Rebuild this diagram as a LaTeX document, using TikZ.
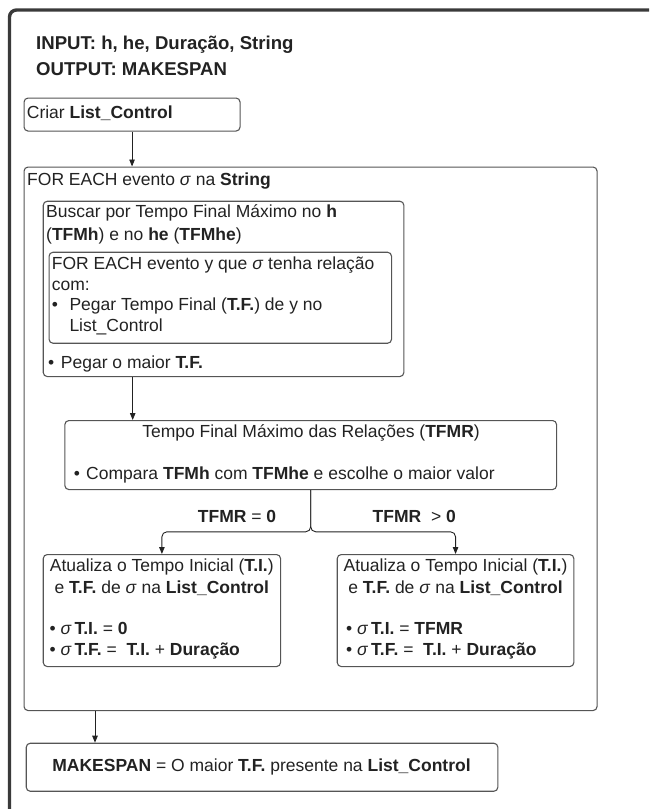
\documentclass[tikz,border=0pt]{standalone}
\usepackage{fontspec}
\setmainfont{Liberation Sans}
\usetikzlibrary{arrows.meta,calc}

\definecolor{framegray}{HTML}{3A3A3A}
\definecolor{boxgray}{HTML}{555555}
\definecolor{inkgray}{HTML}{222222}

\tikzset{
  box/.style={draw=boxgray, line width=1.1pt, rounded corners=4pt, anchor=north west, inner sep=0pt},
  txt/.style={inner sep=0pt, anchor=base west, text=inkgray, align=left, font=\fontsize{17.5}{21.6}\selectfont},
  arr/.style={draw=inkgray, line width=0.9pt, -{Triangle[length=7pt,width=5.5pt]}},
}

\begin{document}
\begin{tikzpicture}[x=1pt,y=-1pt]

    \useasboundingbox (0,0) rectangle (649,809);

    % Outer frame (runs off the page right and below)
    \begin{scope}
        \clip (0,0) rectangle (649,809);
        \draw[framegray, line width=3.4pt, rounded corners=7pt] (9.5,10) rectangle (700,860);
    \end{scope}

    % Input and output (multi-line nodes sit on their last baseline)
    \node[txt, font=\fontsize{18.6}{26}\selectfont\bfseries] (io) at (36,75) {INPUT: h, he, Duração, String\\OUTPUT: MAKESPAN};

    % Criar List_Control
    \node[box, minimum width=216pt, minimum height=33pt] (criar) at (23.5,97.5) {};
    \node[txt] (criartxt) at (26.7,118) {Criar \textbf{List\_Control}};

    % Loop over the events of the string
    \node[box, minimum width=573pt, minimum height=543.5pt] (foreach) at (23.5,166.5) {};
    \node[txt] (foreachtxt) at (27,185) {FOR EACH evento \textit{σ} na \textbf{String}};

    % Search for the maximum final time
    \node[box, minimum width=360.6pt, minimum height=175.3pt] (buscar) at (42.7,200.7) {};
    \node[txt, font=\fontsize{17.5}{22.3}\selectfont] (buscartxt) at (46,240) {Buscar por Tempo Final Máximo no \textbf{h}\\(\textbf{TFMh}) e no \textbf{he} (\textbf{TFMhe})};

    % Inner loop over the related events
    \node[box, minimum width=342.5pt, minimum height=91pt] (cadaY) at (48.5,251.7) {};
    \node[txt, font=\fontsize{17.5}{20.8}\selectfont] (cadaYtxt) at (51.7,331.7) {FOR EACH evento y que \textit{σ} tenha relação\\com:\\•\hspace{11.5pt}Pegar Tempo Final (\textbf{T.F.}) de y no\\\hspace*{17.6pt}List\_Control};
    \node[txt] (maiortxt) at (48,368.3) {•\hspace{6.6pt}Pegar o maior \textbf{T.F.}};

    % Maximum final time of the relations
    \node[box, minimum width=491.7pt, minimum height=69pt] (tfmr) at (64.3,420) {};
    \node[txt, anchor=base] (tfmrtxt) at (311,437) {Tempo Final Máximo das Relações (\textbf{TFMR})};
    \node[txt] (comparatxt) at (73.7,479.3) {•\hspace{6.2pt}Compara \textbf{TFMh} com \textbf{TFMhe} e escolhe o maior valor};

    % Branch labels
    \node[txt, anchor=base] (lblzero) at (237,522.7) {\textbf{TFMR} = \textbf{0}};
    \node[txt, anchor=base] (lblpos) at (414.3,522.7) {\textbf{TFMR} \ > \textbf{0}};

    % Update when TFMR = 0
    \node[box, minimum width=237.3pt, minimum height=112pt] (updzero) at (42.7,554) {};
    \node[txt, align=center, anchor=base] (updzerotxt) at (161.8,593.3) {Atualiza o Tempo Inicial (\textbf{T.I.})\\e \textbf{T.F.} de \textit{σ} na \textbf{List\_Control}};
    \node[txt, font=\fontsize{17.5}{20.7}\selectfont] (updzerolist) at (49.4,655) {• \textit{σ}\,\textbf{T.I.} = \textbf{0}\\• \textit{σ}\,\textbf{T.F.} = \ \textbf{T.I.} + \textbf{Duração}};

    % Update when TFMR > 0
    \node[box, minimum width=236.6pt, minimum height=112pt] (updpos) at (336.7,554) {};
    \node[txt, align=center, anchor=base] (updpostxt) at (455.5,593.3) {Atualiza o Tempo Inicial (\textbf{T.I.})\\e \textbf{T.F.} de \textit{σ} na \textbf{List\_Control}};
    \node[txt, font=\fontsize{17.5}{20.7}\selectfont] (updposlist) at (346,655) {• \textit{σ}\,\textbf{T.I.} = \textbf{TFMR}\\• \textit{σ}\,\textbf{T.F.} = \ \textbf{T.I.} + \textbf{Duração}};

    % Makespan
    \node[box, minimum width=471.6pt, minimum height=48pt] (makespan) at (25.7,742.7) {};
    \node[txt, anchor=base] (makespantxt) at (261.5,771) {\textbf{MAKESPAN} = O maior \textbf{T.F.} presente na \textbf{List\_Control}};

    % Connectors
    \draw[arr] (criar.south) -- (criar.south |- foreach.north);
    \coordinate (buscarout) at ($(buscar.south west)+(90,0)$);
    \draw[arr] (buscarout) -- (buscarout |- tfmr.north);
    \coordinate (split) at ($(tfmr.south)+(0,41.7)$);
    \draw[arr, rounded corners=5pt] (tfmr.south) -- (split) -| (updzero.north);
    \draw[arr, rounded corners=5pt] (tfmr.south) -- (split) -| (updpos.north);
    \coordinate (loopout) at ($(foreach.south west)+(71.5,0)$);
    \draw[arr] (loopout) -- (loopout |- makespan.north);

\end{tikzpicture}
\end{document}
